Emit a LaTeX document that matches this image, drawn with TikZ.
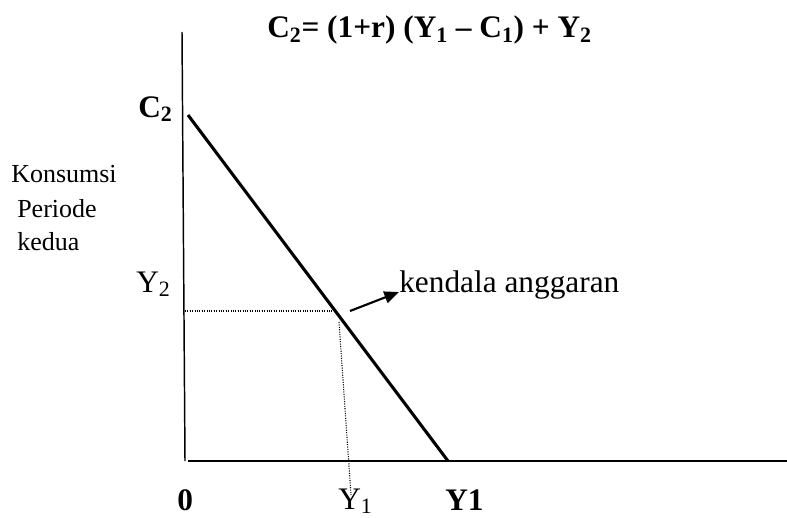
\documentclass[tikz,border=0pt]{standalone}
\usepackage{fontspec}
\setmainfont{Liberation Serif}
\usetikzlibrary{arrows.meta}

\begin{document}
\begin{tikzpicture}[
  x=0.75pt, y=-0.75pt,
  lbl/.style={inner sep=0pt, font=\fontsize{23.5}{27}\selectfont},
  blbl/.style={lbl, font=\fontsize{23.5}{27}\selectfont\bfseries},
  side/.style={inner sep=0pt, anchor=base west, font=\fontsize{19.5}{22}\selectfont},
  axis/.style={line width=1.5pt, black},
  budget/.style={line width=2.3pt, black},
  guide/.style={densely dotted, line width=0.8pt, black},
  pointer/.style={-{Triangle[length=11pt, width=9pt]}, line width=1.6pt}]
\useasboundingbox (0,0) rectangle (787,517);
% axes
\coordinate (ytop) at (182,32);
\coordinate (ybot) at (185,461);
\coordinate (xleft) at (188,461);
\coordinate (xright) at (787,461);
\draw[axis, line width=1.1pt] (ytop) -- (ybot);
\draw[axis] (xleft) -- (xright);
% budget line and point
\coordinate (c2) at (188,115);
\coordinate (y1end) at (448,461);
\coordinate (pt) at (336,311);
\draw[budget] (c2) -- (y1end);
\draw[guide] (185,311) -- (pt);
\coordinate (drop) at (339,322);
\coordinate (dropend) at (351,495);
\draw[guide] (drop) -- (dropend);
% labels
\node[blbl, anchor=base west] (title) at (267,38)
  {C\textsubscript{2}= (1+r) (Y\textsubscript{1} – C\textsubscript{1}) + Y\textsubscript{2}};
\node[blbl, anchor=base west] (labC) at (138,117) {C\textsubscript{2}};
\node[side] (kons) at (11,182) {Konsumsi};
\node[side] (per) at (17,217) {Periode};
\node[side] (ked) at (17,250) {kedua};
\node[lbl, anchor=base west] (labY2) at (136,292) {Y\textsubscript{2}};
\node[lbl, anchor=base west] (kend) at (399,292) {kendala anggaran};
\node[blbl, anchor=base west] (zero) at (177,510) {0};
\node[lbl, anchor=base west] (labY1) at (338,509) {Y\textsubscript{1}};
\node[blbl, anchor=base west] (labYone) at (445,510) {Y1};
\coordinate (tail) at (350,311);
\draw[pointer] (tail) -- (kend.base west);
\end{tikzpicture}
\end{document}
